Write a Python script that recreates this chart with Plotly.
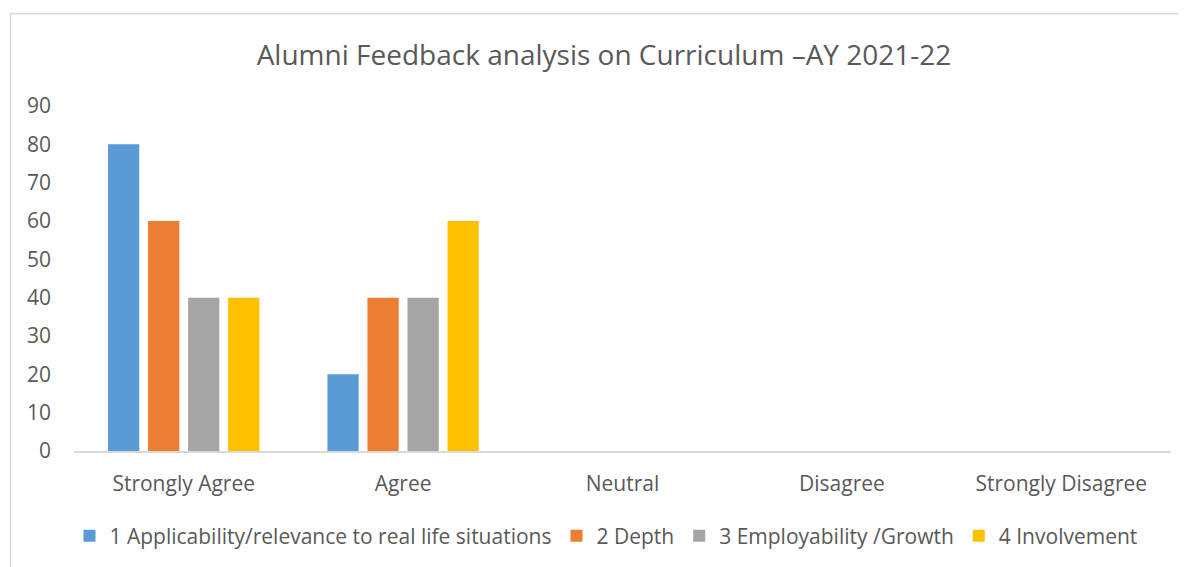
import plotly.graph_objects as go

categories = ["Strongly Agree", "Agree", "Neutral", "Disagree", "Strongly Disagree"]
series_names = [
    "1 Applicability/relevance to real life situations",
    "2 Depth",
    "3 Employability /Growth",
    "4 Involvement",
]
applicability = [80, 20, 0, 0, 0]
depth = [60, 40, 0, 0, 0]
employability = [40, 40, 0, 0, 0]
involvement = [40, 60, 0, 0, 0]
y_ticks = [0, 10, 20, 30, 40, 50, 60, 70, 80, 90]

colors = ["#5B9BD5", "#ED7D31", "#A5A5A5", "#FFC000"]
values = [applicability, depth, employability, involvement]

FONT = "Open Sans"
TXT = "#595959"

fig = go.Figure()
for name, vals, col in zip(series_names, values, colors):
    fig.add_trace(go.Bar(x=categories, y=vals, name=name, marker=dict(color=col, line=dict(width=0))))

OFF = 8  # default body margin of the page
W, H = 1187 - OFF, 567 - OFF
L = 74 - OFF
R = W - (1171 - OFF)
T = 106 - OFF
B = H - (452 - OFF)
pw, ph = W - L - R, H - T - B


def px2paper_x(px):
    return (px - OFF - L) / pw


def px2paper_y(py):
    return (H - B - (py - OFF)) / ph


fig.update_layout(
    width=W, height=H,
    margin=dict(l=L, r=R, t=T, b=B, pad=0),
    paper_bgcolor="white", plot_bgcolor="white",
    barmode="group", bargap=0.27, bargroupgap=0.22,
    font=dict(family=FONT, color=TXT, size=21),
    title=dict(
        text="Alumni Feedback analysis on Curriculum –AY 2021-22",
        font=dict(family=FONT, size=28, color=TXT),
        x=px2paper_x(604), xref="paper", xanchor="center",
        y=1 - (55 - OFF) / H, yref="container", yanchor="middle",
    ),
    showlegend=True,
    legend=dict(
        orientation="h", xref="paper", x=px2paper_x(606), xanchor="center",
        y=px2paper_y(536), yanchor="middle",
        font=dict(family=FONT, size=21, color=TXT),
        itemwidth=30, tracegroupgap=0, traceorder="normal",
        bgcolor="rgba(0,0,0,0)",
    ),
    xaxis=dict(
        showgrid=False, showline=True, linecolor="#D9D9D9", linewidth=2,
        ticks="", ticklabelstandoff=13, tickfont=dict(family=FONT, size=21, color=TXT),
        fixedrange=True,
    ),
    yaxis=dict(
        range=[0, 90], tickvals=y_ticks, showgrid=False, zeroline=False, showline=False,
        ticks="", ticklabelstandoff=22, tickfont=dict(family=FONT, size=21, color=TXT),
        fixedrange=True,
    ),
    shapes=[
        dict(type="rect", xref="paper", yref="paper",
             x0=px2paper_x(10.5), x1=px2paper_x(1300), y0=px2paper_y(800), y1=px2paper_y(13.5),
             line=dict(color="#D9D9D9", width=1.5), fillcolor="rgba(0,0,0,0)", layer="below"),
    ],
)

fig.write_html("out.html")
